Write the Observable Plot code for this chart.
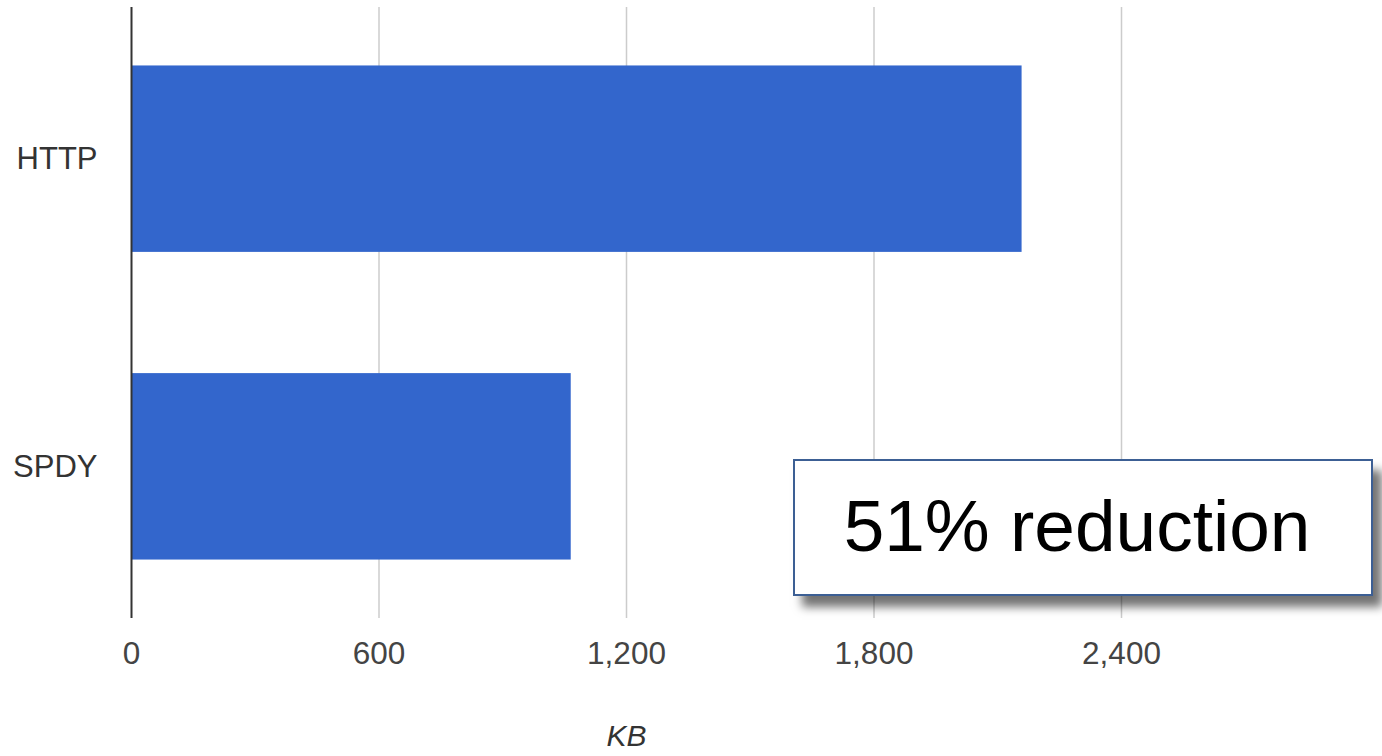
<!DOCTYPE html>
<html>
<head>
<meta charset="utf-8">
<script src="https://cdn.jsdelivr.net/npm/d3@7"></script>
<script src="https://cdn.jsdelivr.net/npm/@observablehq/plot@0.6"></script>
<style>
  html, body { margin: 0; padding: 0; background: #fff; }
  #wrap { position: relative; width: 1382px; height: 756px; overflow: hidden; font-family: "Liberation Sans", Arial, sans-serif; }
  #note {
    position: absolute; left: 793px; top: 459px; width: 580px; height: 137px;
    box-sizing: border-box; border: 2px solid #3c5f94; background: #fff;
    box-shadow: 9px 11px 9px rgba(0,0,0,0.55);
    display: flex; align-items: center; justify-content: center;
    padding-right: 12px; padding-bottom: 4px;
    font-size: 73px; color: #000; line-height: 1;
  }
</style>
</head>
<body>
<div id="wrap"></div>
<script>
const protocols = ["HTTP", "SPDY"];
const kbValues = [2159, 1066];
const xTicks = [0, 600, 1200, 1800, 2400];
const gridTicks = [600, 1200, 1800, 2400];
const axisTitle = "KB";
const noteText = "51% reduction";

const data = protocols.map((p, i) => ({protocol: p, kb: kbValues[i]}));

const chart = Plot.plot({
  width: 1382,
  height: 756,
  marginLeft: 131,
  marginRight: 261,
  marginTop: 7,
  marginBottom: 138,
  style: {fontFamily: '"Liberation Sans", Arial, sans-serif', background: "#fff", overflow: "visible"},
  x: {domain: [0, 2400], label: null},
  y: {domain: protocols, paddingInner: 0.394, paddingOuter: 0.19, label: null, round: false},
  marks: [
    Plot.gridX(gridTicks, {stroke: "#cccccc", strokeOpacity: 1, strokeWidth: 1.5}),
    Plot.barX(data, {x: "kb", y: "protocol", fill: "#3366cc"}),
    Plot.ruleX([0], {stroke: "#333333", strokeWidth: 2}),
    Plot.axisX({ticks: xTicks, tickFormat: d3.format(","), tickSize: 0, tickPadding: 23, fontSize: 31.5, fill: "#444444", label: null}),
    Plot.axisY({tickSize: 0, tickPadding: 34, fontSize: 31, fill: "#333333", label: null}),
    Plot.text([axisTitle], {frameAnchor: "bottom", dy: 127, fontSize: 30, fontStyle: "italic", fill: "#333333"})
  ]
});

const wrap = document.getElementById("wrap");
wrap.appendChild(chart);
const note = document.createElement("div");
note.id = "note";
note.textContent = noteText;
wrap.appendChild(note);
</script>
</body>
</html>
